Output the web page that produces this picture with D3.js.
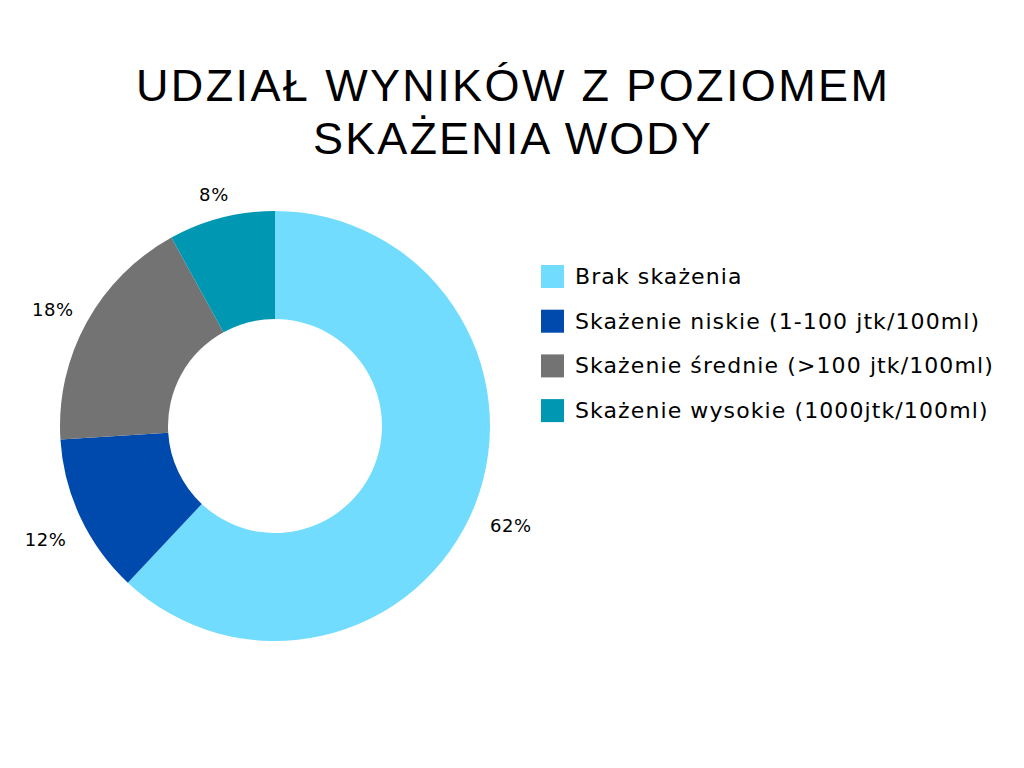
<!DOCTYPE html>
<html><head><meta charset="utf-8">
<script src="https://cdn.jsdelivr.net/npm/d3@7"></script>
<style>body{margin:0;background:#fff;} svg{display:block;}</style>
</head><body>
<svg id="c" width="1024" height="768"></svg>
<script>
const titleLines = ["UDZIAŁ WYNIKÓW Z POZIOMEM", "SKAŻENIA WODY"];
const titleWidths = [752, 398];
const categories = ["Brak skażenia", "Skażenie niskie (1-100 jtk/100ml)", "Skażenie średnie (>100 jtk/100ml)", "Skażenie wysokie (1000jtk/100ml)"];
const values = [62, 12, 18, 8];
const colors = ["#71DCFD", "#004AAD", "#737373", "#0097B2"];

const svg = d3.select("#c");
const tfont = "'Liberation Sans', Arial, sans-serif";
const font = "'DejaVu Sans', sans-serif";

svg.append("g").selectAll("text").data(titleLines).join("text")
  .attr("x", 512).attr("y", (d,i) => 101 + i*53)
  .attr("text-anchor", "middle")
  .attr("font-family", tfont).attr("font-size", 45).attr("font-weight", 400)
  .attr("textLength", (d,i) => titleWidths[i]).attr("lengthAdjust", "spacing")
  .attr("fill", "#000").text(d => d);

const cx = 275, cy = 426, R = 215, r = 107;
const pie = d3.pie().sort(null).value(d => d);
const arcs = pie(values);
const arc = d3.arc().innerRadius(r).outerRadius(R);
const g = svg.append("g").attr("transform", `translate(${cx},${cy})`);
g.selectAll("path").data(arcs).join("path")
  .attr("d", arc).attr("fill", (d,i) => colors[i]);

g.selectAll("text").data(arcs).join("text")
  .attr("transform", d => {
    const a = (d.startAngle + d.endAngle)/2;
    const s = Math.sin(a), c = Math.cos(a);
    const rr = 233 + 19*Math.abs(s) + 8*Math.abs(c);
    return `translate(${rr*s},${-rr*c + 6})`;
  })
  .attr("text-anchor", "middle").attr("dy", "0.36em")
  .attr("font-family", font).attr("font-size", 18).attr("letter-spacing", 0.6).attr("fill", "#000")
  .text(d => d.data + "%");

const lg = svg.append("g").selectAll("g").data(categories).join("g")
  .attr("transform", (d,i) => `translate(541,${265 + i*44.7})`);
lg.append("rect").attr("width", 23).attr("height", 23).attr("fill", (d,i) => colors[i]);
lg.append("text").attr("x", 34).attr("y", 19)
  .attr("font-family", font).attr("font-size", 22).attr("letter-spacing", 1.1).attr("fill", "#000")
  .text(d => d);
</script>
</body></html>
